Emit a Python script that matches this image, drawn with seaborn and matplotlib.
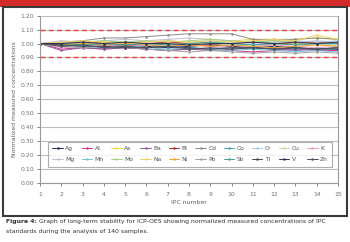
import matplotlib
matplotlib.use("Agg")
import matplotlib.pyplot as plt
import seaborn as sns
import pandas as pd
from matplotlib.patches import Rectangle

ipc = list(range(1, 16))
elements = ["Ag", "Al", "As", "Ba", "Bi", "Cd", "Co", "Cr", "Cu", "K",
            "Mg", "Mn", "Mo", "Na", "Ni", "Pb", "Sb", "Ti", "V", "Zn"]
values = {
    "Ag": [1.00, 0.99, 1.00, 0.98, 0.99, 0.98, 0.97, 0.98, 0.99, 0.98, 0.97, 0.98, 0.97, 0.96, 0.97],
    "Al": [1.00, 0.96, 0.97, 0.96, 0.97, 0.96, 0.95, 0.96, 0.96, 0.95, 0.94, 0.95, 0.96, 0.95, 0.95],
    "As": [1.00, 1.01, 1.00, 1.01, 1.00, 1.02, 1.01, 1.00, 1.01, 1.02, 1.03, 1.02, 1.03, 1.04, 1.03],
    "Ba": [1.00, 0.95, 0.97, 0.96, 0.97, 0.96, 0.95, 0.96, 0.95, 0.96, 0.97, 0.96, 0.95, 0.96, 0.96],
    "Bi": [1.00, 1.00, 1.01, 1.00, 0.99, 1.00, 1.01, 1.00, 0.99, 1.00, 1.01, 1.00, 1.00, 1.01, 1.00],
    "Cd": [1.00, 1.01, 1.02, 1.04, 1.04, 1.05, 1.06, 1.07, 1.07, 1.07, 1.03, 1.03, 1.03, 1.04, 1.03],
    "Co": [1.00, 0.98, 0.99, 0.98, 0.98, 0.97, 0.98, 0.97, 0.96, 0.97, 0.96, 0.97, 0.96, 0.97, 0.96],
    "Cr": [1.00, 1.01, 1.00, 1.02, 1.01, 1.01, 1.02, 1.01, 1.02, 1.01, 1.00, 1.01, 1.02, 1.01, 1.02],
    "Cu": [1.00, 1.00, 0.99, 1.00, 1.01, 1.00, 0.99, 0.99, 1.00, 0.99, 0.98, 0.99, 1.00, 0.99, 0.99],
    "K":  [1.00, 0.97, 0.98, 0.99, 0.98, 0.99, 0.98, 0.99, 0.98, 0.97, 0.98, 0.99, 0.98, 0.97, 0.98],
    "Mg": [1.00, 1.02, 1.01, 1.02, 1.03, 1.02, 1.03, 1.04, 1.03, 1.02, 1.01, 1.02, 1.01, 1.02, 1.01],
    "Mn": [1.00, 0.99, 0.98, 0.97, 0.98, 0.97, 0.96, 0.97, 0.96, 0.95, 0.96, 0.95, 0.94, 0.95, 0.94],
    "Mo": [1.00, 1.00, 1.01, 1.02, 1.01, 1.02, 1.01, 1.02, 1.03, 1.02, 1.01, 1.02, 1.01, 1.00, 1.01],
    "Na": [1.00, 1.01, 1.02, 1.01, 1.00, 1.01, 1.02, 1.01, 1.02, 1.01, 1.02, 1.03, 1.02, 1.06, 1.03],
    "Ni": [1.00, 0.99, 1.00, 0.99, 1.00, 0.99, 0.98, 0.99, 0.98, 0.99, 0.98, 0.97, 0.98, 0.99, 0.98],
    "Pb": [1.00, 0.98, 0.97, 0.98, 0.97, 0.96, 0.95, 0.94, 0.95, 0.94, 0.93, 0.94, 0.93, 0.94, 0.93],
    "Sb": [1.00, 1.00, 0.99, 1.00, 0.99, 1.00, 0.99, 1.00, 1.01, 1.00, 0.99, 1.00, 0.99, 1.00, 1.00],
    "Ti": [1.00, 0.99, 0.98, 0.98, 0.97, 0.97, 0.98, 0.97, 0.96, 0.97, 0.97, 0.96, 0.97, 0.96, 0.97],
    "V":  [1.00, 1.00, 1.01, 1.00, 1.01, 1.00, 1.00, 0.99, 1.00, 1.00, 1.01, 1.00, 1.01, 1.00, 1.01],
    "Zn": [1.00, 0.98, 0.99, 0.97, 0.98, 0.97, 0.98, 0.96, 0.97, 0.96, 0.97, 0.96, 0.97, 0.96, 0.96],
}
colors = ["#1f2a5a", "#d0309a", "#e8d840", "#8a5a9a", "#b02828", "#8a8a8a", "#40a8b8", "#a8c8e8",
          "#c8d8a8", "#e8a0c0", "#c0c0d0", "#70c8d8", "#a8d080", "#f0d060", "#f0a030", "#a0a0a0",
          "#40a090", "#404858", "#303050", "#505060"]
y_ticks = [0.00, 0.10, 0.20, 0.30, 0.40, 0.50, 0.60, 0.70, 0.80, 0.90, 1.00, 1.10, 1.20]
x_label = "IPC number"
y_label = "Normalized measured concentrations"
limits = [1.10, 0.90]
caption_bold = "Figure 4:"
caption_1 = " Graph of long-term stability for ICP-OES showing normalized measured concentrations of IPC"
caption_2 = "standards during the analysis of 140 samples."

rows = []
for el in elements:
    for x, v in zip(ipc, values[el]):
        rows.append({"ipc": x, "value": v, "element": el})
df = pd.DataFrame(rows)

sns.set_style("white")
plt.rcParams["font.family"] = ["DejaVu Sans"]

fig = plt.figure(figsize=(3.5, 2.42), dpi=100)
# red header bar
fig.patches.append(Rectangle((0, 1 - 7 / 242), 1, 7 / 242, transform=fig.transFigure,
                             facecolor="#d42a2a", edgecolor="none", zorder=-2))
# chart box
fig.patches.append(Rectangle((3 / 350, 1 - 216 / 242), 344 / 350, 209 / 242, transform=fig.transFigure,
                             facecolor="white", edgecolor="#3a3a3a", linewidth=1.5, zorder=-1))

ax = fig.add_axes([40 / 350, 1 - 182.7 / 242, 298 / 350, 167 / 242])
ax.set_facecolor("none")
ax.set_zorder(2)
sns.lineplot(data=df, x="ipc", y="value", hue="element", hue_order=elements,
             palette=colors, marker="o", markersize=1.8, markeredgewidth=0,
             linewidth=0.7, ax=ax, legend=True)

for lim in limits:
    ax.axhline(lim, color="#e04040", lw=1.0, dashes=(3.5, 2.5), zorder=5)

ax.set_xlim(1, 15)
ax.set_ylim(0, 1.2)
ax.set_yticks(y_ticks)
ax.set_yticklabels([f"{t:.2f}" for t in y_ticks])
ax.set_xticks(ipc)
ax.grid(axis="y", color="#bdbdbd", lw=0.8)
ax.grid(axis="x", visible=False)
for s in ["left", "bottom", "right"]:
    ax.spines[s].set_color("#9a9a9a")
    ax.spines[s].set_linewidth(0.8)
ax.spines["top"].set_visible(False)
ax.tick_params(axis="both", labelsize=4.4, colors="#707070", length=2, width=0.6,
               direction="out", pad=2)
ax.tick_params(axis="y", left=True)
ax.tick_params(axis="x", bottom=True, pad=5)
ax.set_xlabel(x_label, fontsize=4.4, color="#606060", labelpad=2)
ax.set_ylabel(y_label, fontsize=4.4, color="#606060", labelpad=3)

handles, labels = ax.get_legend_handles_labels()
ax.get_legend().remove()
order = []
for c in range(10):
    order += [c, c + 10]
leg = ax.legend([handles[i] for i in order], [labels[i] for i in order], ncol=10,
                loc="upper left", bbox_to_anchor=(5 / 298, 0.094, 290 / 298, 0.168),
                mode="expand", fontsize=4.3, frameon=True, fancybox=False,
                handlelength=1.8, handletextpad=0.4, columnspacing=0.6, borderpad=0.7,
                labelspacing=1.0, markerscale=1.0)
leg.get_frame().set_edgecolor("#9a9a9a")
leg.get_frame().set_linewidth(0.8)
for t in leg.get_texts():
    t.set_color("#505050")

tb = fig.text(6 / 350, 1 - 222 / 242, caption_bold, fontsize=4.4, color="#303030",
              va="center", ha="left", fontweight="bold")
ax.annotate(caption_1, xy=(1, 0.5), xycoords=tb, va="center", ha="left",
            fontsize=4.4, color="#303030", annotation_clip=False)
fig.text(6 / 350, 1 - 232 / 242, caption_2, fontsize=4.4, color="#303030", va="center", ha="left")

fig.savefig("out.png", dpi=100)
